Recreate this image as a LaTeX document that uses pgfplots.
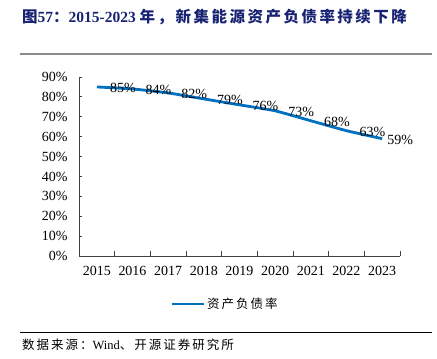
\documentclass[border=0pt]{standalone}
\usepackage{fontspec}
\setmainfont{Liberation Serif}
\newfontfamily\cjk[LetterSpace=16]{Noto Sans CJK SC}
\usepackage{pgfplots}
\pgfplotsset{compat=1.18}
\definecolor{lineblue}{RGB}{0,112,192}
\definecolor{titleblue}{RGB}{25,35,115}
\begin{document}
\begin{tikzpicture}
\useasboundingbox (0pt,0pt) rectangle (437pt,-359pt);
\node[anchor=west, text=titleblue, inner sep=0] at (22pt,-17pt) {\fontsize{15.5}{17}\selectfont\bfseries{\cjk 图}57{\cjk ：}2015-2023 {\cjk 年，新集能源资产负债率持续下降}};
\draw[black!45, line width=1.5pt] (20pt,-54pt) -- (432pt,-54pt);
\draw[black, line width=0.8pt] (20pt,-332pt) -- (432pt,-332pt);
\node[anchor=west, inner sep=0] at (22pt,-345pt) {\fontsize{12.5}{14}\selectfont{\cjk 数据来源：}Wind{\cjk 、开源证券研究所}};
\begin{axis}[at={(79pt,-256pt)}, anchor=south west, scale only axis,
  width=321pt, height=179pt,
  xmin=0, xmax=9, ymin=0, ymax=90,
  axis lines=left, axis line style={-, black!75, line width=0.8pt},
  clip=false,
  /pgf/number format/assume math mode=true,
  xtick={0.5,1.5,...,8.5},
  xticklabels={2015,2016,2017,2018,2019,2020,2021,2022,2023},
  minor xtick={0,...,9},
  major x tick style={draw=none},
  minor x tick style={black!75, line width=0.8pt},
  minor tick length=5pt,
  ytick={0,10,...,90},
  yticklabel={\pgfmathprintnumber{\tick}\%},
  major tick length=3pt,
  y tick style={black!75, line width=0.8pt},
  tick align=inside,
  tick label style={font=\fontsize{14}{14}\selectfont},
  xticklabel style={yshift=-7pt},
  yticklabel style={xshift=-8pt},
  legend style={at={(0.455,-0.268)}, anchor=center, draw=none, fill=none,
    font=\fontsize{12.5}{14}\selectfont, inner sep=0pt},
  legend image code/.code={\draw[#1] (0pt,0pt) -- (32pt,0pt);},
]
\addplot[lineblue, line width=2.8pt, smooth, tension=0.3] coordinates {
(0.5,85)(1.5,84)(2.5,82)(3.5,79)(4.5,76)(5.5,73)(6.5,68)(7.5,63)(8.5,59)};
\addlegendentry{\cjk 资产负债率}
\addplot[forget plot, draw=none, nodes near coords, point meta=explicit symbolic,
  nodes near coords style={anchor=west, inner sep=0pt, xshift=13pt, yshift=-1pt, font=\fontsize{14}{14}\selectfont}]
  coordinates {(0.5,85)[85\%] (1.5,84)[84\%] (2.5,82)[82\%] (3.5,79)[79\%] (4.5,76)[76\%] (5.5,73)[73\%] (6.5,68)[68\%] (7.5,63)[63\%]};
\addplot[forget plot, draw=none, nodes near coords, point meta=explicit symbolic,
  nodes near coords style={anchor=west, inner sep=0pt, xshift=5pt, yshift=-1.5pt, font=\fontsize{14}{14}\selectfont}]
  coordinates {(8.5,59)[59\%]};
\end{axis}
\end{tikzpicture}
\end{document}
